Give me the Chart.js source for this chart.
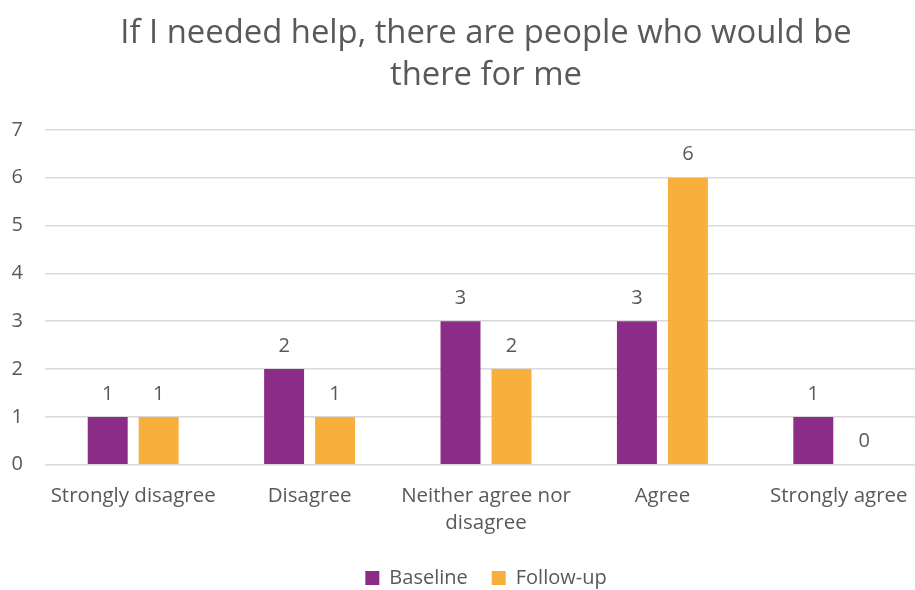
<!DOCTYPE html>
<html lang="en">
<head>
    <meta charset="UTF-8">
    <title>If I needed help</title>
    <script src="https://cdn.jsdelivr.net/npm/chart.js"></script>
    <style>
        html, body { margin: 0; padding: 0; background: #fff; overflow: hidden; }
        /* plot runs a little past the right edge, as in the original */
        #wrap { width: 927px; height: 590px; }
    </style>
</head>
<body>
    <div id="wrap"><canvas id="helpChart"></canvas></div>

    <script>
        const categories = ['Strongly disagree', 'Disagree', ['Neither agree nor', 'disagree'], 'Agree', 'Strongly agree'];
        const baseline = [1, 2, 3, 3, 1];
        const followUp = [1, 1, 2, 6, 0];
        const yTicks = [0, 1, 2, 3, 4, 5, 6, 7];

        const textColor = '#595959';
        const fontFamily = '"Open Sans", sans-serif';

        // draws the value above each bar
        const valueLabels = {
            id: 'valueLabels',
            afterDatasetsDraw(chart) {
                const ctx = chart.ctx;
                ctx.save();
                ctx.fillStyle = textColor;
                ctx.font = '20px ' + fontFamily;
                ctx.textAlign = 'center';
                ctx.textBaseline = 'bottom';
                chart.data.datasets.forEach((ds, i) => {
                    chart.getDatasetMeta(i).data.forEach((bar, j) => {
                        ctx.fillText(ds.data[j], bar.x, bar.y - 13);
                    });
                });
                ctx.restore();
            }
        };

        const ctx = document.getElementById('helpChart').getContext('2d');
        new Chart(ctx, {
            type: 'bar',
            data: {
                labels: categories,
                datasets: [{
                    label: 'Baseline',
                    data: baseline,
                    backgroundColor: '#8b2c86'
                }, {
                    label: 'Follow-up',
                    data: followUp,
                    backgroundColor: '#f8b03c'
                }]
            },
            options: {
                responsive: true,
                maintainAspectRatio: false,
                animation: false,
                categoryPercentage: 0.578,
                barPercentage: 0.784,
                layout: { padding: { left: 0, right: 0, top: 13, bottom: -8 } },
                plugins: {
                    title: {
                        display: true,
                        fullSize: false,
                        text: ['If I needed help, there are people who would be', 'there for me'],
                        color: textColor,
                        font: { family: fontFamily, size: 32.8, weight: 'normal', lineHeight: 1.28 },
                        padding: { top: 0, bottom: 33 }
                    },
                    legend: {
                        position: 'bottom',
                        fullSize: false,
                        labels: {
                            color: textColor,
                            font: { family: fontFamily, size: 20 },
                            boxWidth: 14,
                            boxHeight: 14,
                            padding: 24
                        }
                    },
                    tooltip: { enabled: false }
                },
                scales: {
                    x: {
                        grid: { display: false },
                        border: { color: '#d9d9d9' },
                        ticks: {
                            color: textColor,
                            font: { family: fontFamily, size: 20.5, lineHeight: 1.3 },
                            maxRotation: 0,
                            autoSkip: false,
                            padding: 10
                        },
                        afterFit(scale) { scale.height -= 2; }
                    },
                    y: {
                        min: yTicks[0],
                        max: yTicks[yTicks.length - 1],
                        grid: { color: '#d9d9d9', lineWidth: 1.5, drawTicks: false },
                        border: { display: false },
                        ticks: {
                            stepSize: 1,
                            color: textColor,
                            font: { family: fontFamily, size: 20 },
                            padding: 22
                        },
                        afterFit(scale) { scale.width = 45; }
                    }
                }
            },
            plugins: [valueLabels]
        });
    </script>
</body>
</html>
